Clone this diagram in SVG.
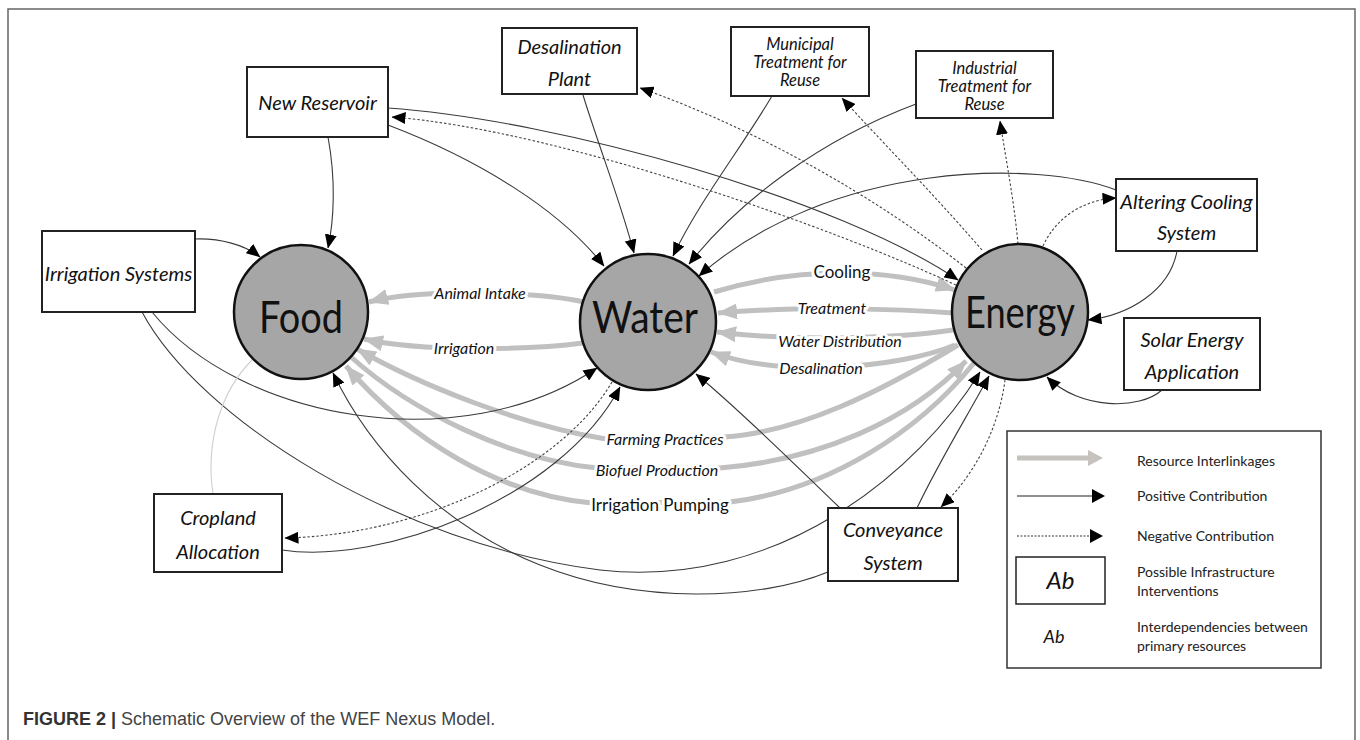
<svg xmlns="http://www.w3.org/2000/svg" width="1360" height="740" viewBox="0 0 1360 740">
<defs>
<style>
.box{fill:#fff;stroke:#222;stroke-width:2}
.bt{font-family:Lato,"Liberation Sans",sans-serif;font-style:italic;font-size:20px;fill:#111;text-anchor:middle}
.bt3{font-family:Lato,"Liberation Sans",sans-serif;font-style:italic;font-size:16.5px;fill:#111;text-anchor:middle}
.hub{fill:#a6a6a6;stroke:#111;stroke-width:2.5}
.ht{font-family:Lato,"Liberation Sans",sans-serif;font-size:44px;fill:#111;text-anchor:middle}
.pos{fill:none;stroke:#3a3a3a;stroke-width:1.1;marker-end:url(#ah)}
.neg{fill:none;stroke:#444;stroke-width:1.1;stroke-dasharray:2.5 2;marker-end:url(#ah)}
.res{fill:none;stroke:#c0c0c0;stroke-width:5;marker-end:url(#ag)}
.thin{fill:none;stroke:#cfcfcf;stroke-width:1.1}
.lbl{font-family:Lato,"Liberation Sans",sans-serif;font-style:italic;font-size:16px;fill:#111;text-anchor:middle;stroke:#fff;stroke-width:6px;paint-order:stroke;stroke-linejoin:round}
.lblu{font-family:Lato,"Liberation Sans",sans-serif;font-size:17px;fill:#111;text-anchor:middle;stroke:#fff;stroke-width:6px;paint-order:stroke;stroke-linejoin:round}
.lg{font-family:Lato,"Liberation Sans",sans-serif;font-size:14px;fill:#222}
.cap{font-family:"Liberation Sans",Arial,sans-serif;font-size:18px;fill:#444}
</style>
<marker id="ah" markerUnits="userSpaceOnUse" viewBox="0 0 14 12" markerWidth="14" markerHeight="12" refX="13.5" refY="6" orient="auto">
<path d="M0,0 L14,6 L0,12 z" fill="#000"/>
</marker>
<marker id="ag" markerUnits="userSpaceOnUse" viewBox="0 0 20 16" markerWidth="20" markerHeight="16" refX="19" refY="8" orient="auto">
<path d="M0,0 L20,8 L0,16 z" fill="#c0c0c0"/>
</marker>
</defs>
<rect x="0" y="0" width="1360" height="740" fill="#fff"/>
<rect x="8" y="9" width="1347" height="760" fill="none" stroke="#666" stroke-width="1.5"/>

<g id="connectors">
<!-- resource interlinkages -->
<path class="res" d="M584,302 C540,292 420,288 369,302"/>
<path class="res" d="M583,343 C530,350 420,352 364,339"/>
<path class="res" d="M714,292 C760,278 800,273 842,273 C890,273 925,280 955,290"/>
<path class="res" d="M953,313 C900,309 800,306 718,313"/>
<path class="res" d="M953,330 C900,338 800,342 717,332"/>
<path class="res" d="M955,345 C900,368 780,378 711,352"/>
<path class="res" d="M958,345 C880,392 800,432 724,437 L606,439 C520,425 420,385 357,349"/>
<path class="res" d="M351,357 C410,410 510,460 597,468 L720,468 C820,460 910,420 966,361"/>
<path class="res" d="M974,363 C920,430 830,490 730,502 L592,503 C500,495 410,440 346,366"/>
<!-- positive contributions -->
<path class="pos" d="M328,137 C336,180 334,220 328,248"/>
<path class="pos" d="M388,125 C480,160 560,210 604,266"/>
<path class="pos" d="M388,108 C560,120 840,200 958,280"/>
<path class="pos" d="M583,95 C600,150 620,200 634,253"/>
<path class="pos" d="M772,96 C740,150 700,200 673,256"/>
<path class="pos" d="M916,104 C820,140 740,200 689,264"/>
<path class="pos" d="M1116,190 C1040,160 830,160 699,276"/>
<path class="pos" d="M1177,251 C1170,290 1130,315 1088,320"/>
<path class="pos" d="M1162,390 C1140,410 1080,410 1047,377"/>
<path class="pos" d="M195,239 C220,238 245,245 260,257"/>
<path class="pos" d="M152,312 C240,420 460,460 597,368"/>
<path class="pos" d="M142,312 C200,420 400,545 600,570 C780,590 920,470 980,372"/>
<path class="pos" d="M828,572 C760,600 640,605 540,565 C440,525 370,450 333,373"/>
<path class="pos" d="M840,508 C790,460 740,410 696,374"/>
<path class="pos" d="M917,508 C940,460 965,420 989,376"/>
<path class="pos" d="M282,550 C380,565 560,500 620,387"/>
<!-- negative contributions -->
<path class="neg" d="M960,287 C840,230 560,130 392,117"/>
<path class="neg" d="M966,268 C880,200 760,130 640,88"/>
<path class="neg" d="M982,250 C930,190 880,140 842,98"/>
<path class="neg" d="M1018,244 C1014,200 1006,160 1000,121"/>
<path class="neg" d="M1043,246 C1055,220 1080,200 1116,198"/>
<path class="neg" d="M1005,380 C1000,420 980,470 941,507"/>
<path class="neg" d="M612,382 C560,470 420,535 285,538"/>
<!-- plain link -->
<path class="thin" d="M213,494 C205,440 222,390 252,360"/>
</g>

<g id="connector-labels">
<text class="lbl" x="480" y="299">Animal Intake</text>
<text class="lbl" x="464" y="354">Irrigation</text>
<text class="lblu" x="842" y="278">Cooling</text>
<text class="lbl" x="832" y="314">Treatment</text>
<text class="lbl" x="840" y="347">Water Distribution</text>
<text class="lbl" x="821" y="374">Desalination</text>
<text class="lbl" x="665" y="445">Farming Practices</text>
<text class="lbl" x="657" y="476">Biofuel Production</text>
<text class="lblu" x="660" y="511">Irrigation Pumping</text>
</g>

<g id="food"><circle class="hub" cx="301" cy="312" r="67"/><text class="ht" x="301" y="333" textLength="84" lengthAdjust="spacingAndGlyphs">Food</text></g>
<g id="water"><circle class="hub" cx="648" cy="322" r="68"/><text class="ht" x="645" y="333" textLength="106" lengthAdjust="spacingAndGlyphs">Water</text></g>
<g id="energy"><circle class="hub" cx="1020" cy="312" r="68"/><text class="ht" x="1020" y="328" textLength="110" lengthAdjust="spacingAndGlyphs">Energy</text></g>

<g id="new-reservoir"><rect class="box" x="247" y="67" width="141" height="70"/><text class="bt" x="317.5" y="110">New Reservoir</text></g>
<g id="irrigation-systems"><rect class="box" x="42" y="231" width="153" height="81"/><text class="bt" x="118.5" y="281">Irrigation Systems</text></g>
<g id="desalination-plant"><rect class="box" x="502" y="28" width="135" height="66"/><text class="bt" x="569.5" y="54">Desalination</text><text class="bt" x="569.5" y="86">Plant</text></g>
<g id="municipal-treatment"><rect class="box" x="731" y="27" width="138" height="69"/><text class="bt3" x="800" y="50">Municipal</text><text class="bt3" x="800" y="68">Treatment for</text><text class="bt3" x="800" y="86">Reuse</text></g>
<g id="industrial-treatment"><rect class="box" x="916" y="51" width="137" height="67"/><text class="bt3" x="984.5" y="74">Industrial</text><text class="bt3" x="984.5" y="92">Treatment for</text><text class="bt3" x="984.5" y="110">Reuse</text></g>
<g id="altering-cooling"><rect class="box" x="1116" y="179" width="141" height="72"/><text class="bt" x="1186.5" y="209">Altering Cooling</text><text class="bt" x="1186.5" y="240">System</text></g>
<g id="solar-energy"><rect class="box" x="1124" y="318" width="136" height="72"/><text class="bt" x="1192" y="347">Solar Energy</text><text class="bt" x="1192" y="379">Application</text></g>
<g id="cropland"><rect class="box" x="154" y="494" width="128" height="78"/><text class="bt" x="218" y="525">Cropland</text><text class="bt" x="218" y="559">Allocation</text></g>
<g id="conveyance"><rect class="box" x="828" y="508" width="130" height="73"/><text class="bt" x="893" y="537">Conveyance</text><text class="bt" x="893" y="570">System</text></g>

<g id="legend">
<rect x="1007" y="431" width="314" height="237" fill="#fff" stroke="#333" stroke-width="1.5"/>
<line x1="1017" y1="458" x2="1090" y2="458" stroke="#c6c2bd" stroke-width="5"/>
<path d="M1088,450 L1103,458 L1088,466 z" fill="#c6c2bd"/>
<line x1="1017" y1="496" x2="1094" y2="496" stroke="#222" stroke-width="1.2"/>
<path d="M1092,489 L1105,496 L1092,503 z" fill="#000"/>
<line x1="1017" y1="536" x2="1092" y2="536" stroke="#333" stroke-width="1.1" stroke-dasharray="2 1.5"/>
<path d="M1090,529 L1103,536 L1090,543 z" fill="#000"/>
<rect x="1016" y="557" width="89" height="47" fill="#fff" stroke="#222" stroke-width="1.5"/>
<text x="1060.5" y="589" font-family="Lato, 'Liberation Sans', sans-serif" font-style="italic" font-size="24" fill="#111" text-anchor="middle">Ab</text>
<text x="1054" y="643" font-family="Lato, 'Liberation Sans', sans-serif" font-style="italic" font-size="18" fill="#111" text-anchor="middle">Ab</text>
<text class="lg" x="1137" y="466">Resource Interlinkages</text>
<text class="lg" x="1137" y="501">Positive Contribution</text>
<text class="lg" x="1137" y="541">Negative Contribution</text>
<text class="lg" x="1137" y="577">Possible Infrastructure</text>
<text class="lg" x="1137" y="596">Interventions</text>
<text class="lg" x="1137" y="632">Interdependencies between</text>
<text class="lg" x="1137" y="651">primary resources</text>
</g>

<g id="caption">
<text class="cap" x="23" y="725"><tspan font-weight="bold" fill="#333">FIGURE 2 |</tspan> Schematic Overview of the WEF Nexus Model.</text>
</g>
</svg>
